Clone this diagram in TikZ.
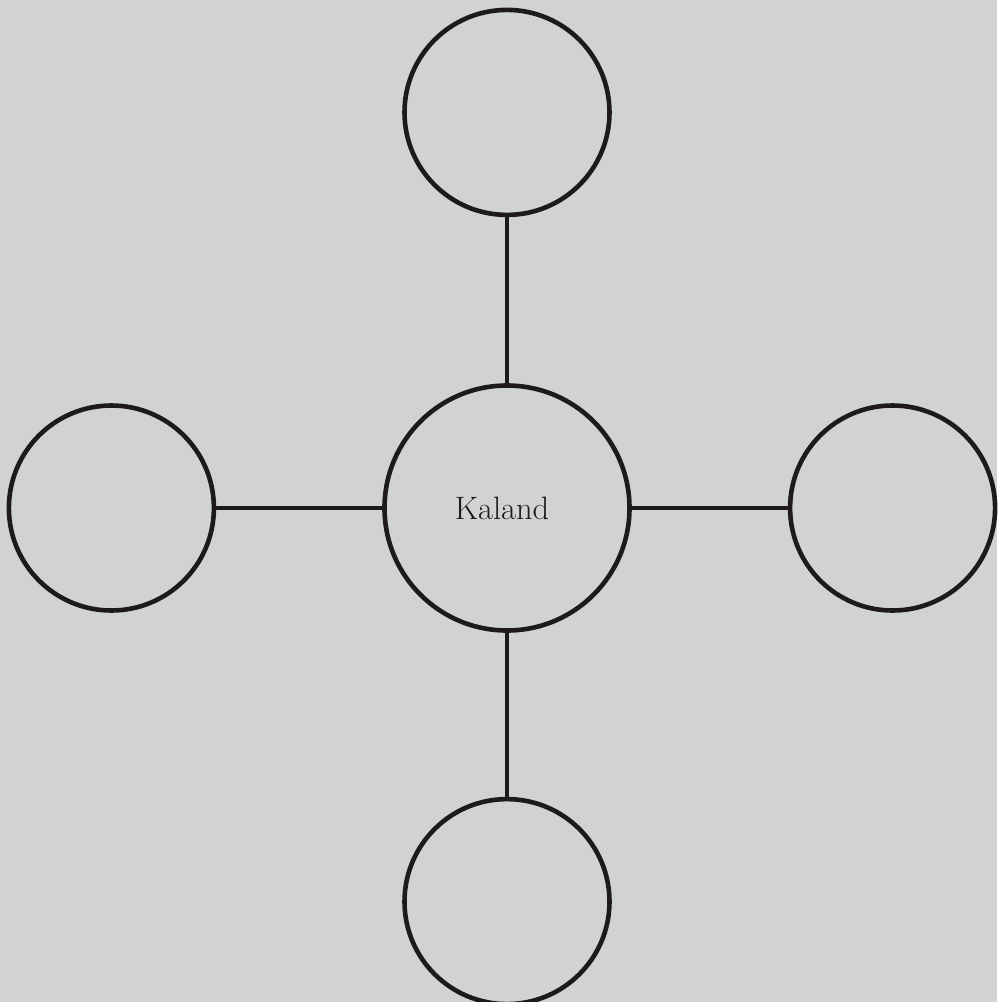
\documentclass[tikz,border=0pt]{standalone}
\usepackage{xcolor}
\usepackage{tikz}
\usetikzlibrary{positioning}

\definecolor{bggrey}{RGB}{209,210,212}
\definecolor{ink}{RGB}{30,26,28}

\begin{document}
\begin{tikzpicture}[
    x=0.5pt, y=-0.5pt,
    node distance=83pt,
    hub/.style={circle, draw=ink, line width=2.3pt, minimum size=122.5pt, inner sep=0pt, font=\fontsize{16.2}{19}\selectfont, text=ink},
    leaf/.style={circle, draw=ink, line width=2.3pt, minimum size=102.5pt, inner sep=0pt},
    link/.style={draw=ink, line width=2.3pt}
]

% Background
\fill[bggrey] (0,0) rectangle (997,1002);
\useasboundingbox (0,0) rectangle (997,1002);

% Nodes
\node[hub] (kaland) at (507,508) {\hspace{-5pt}Kaland};
\node[leaf, above=of kaland] (top) {};
\node[leaf, below=82pt of kaland] (bottom) {};
\node[leaf, left=of kaland] (left) {};
\node[leaf, right=78pt of kaland] (right) {};

% Edges
\draw[link] (kaland) -- (top);
\draw[link] (kaland) -- (bottom);
\draw[link] (kaland) -- (left);
\draw[link] (kaland) -- (right);

\end{tikzpicture}
\end{document}
